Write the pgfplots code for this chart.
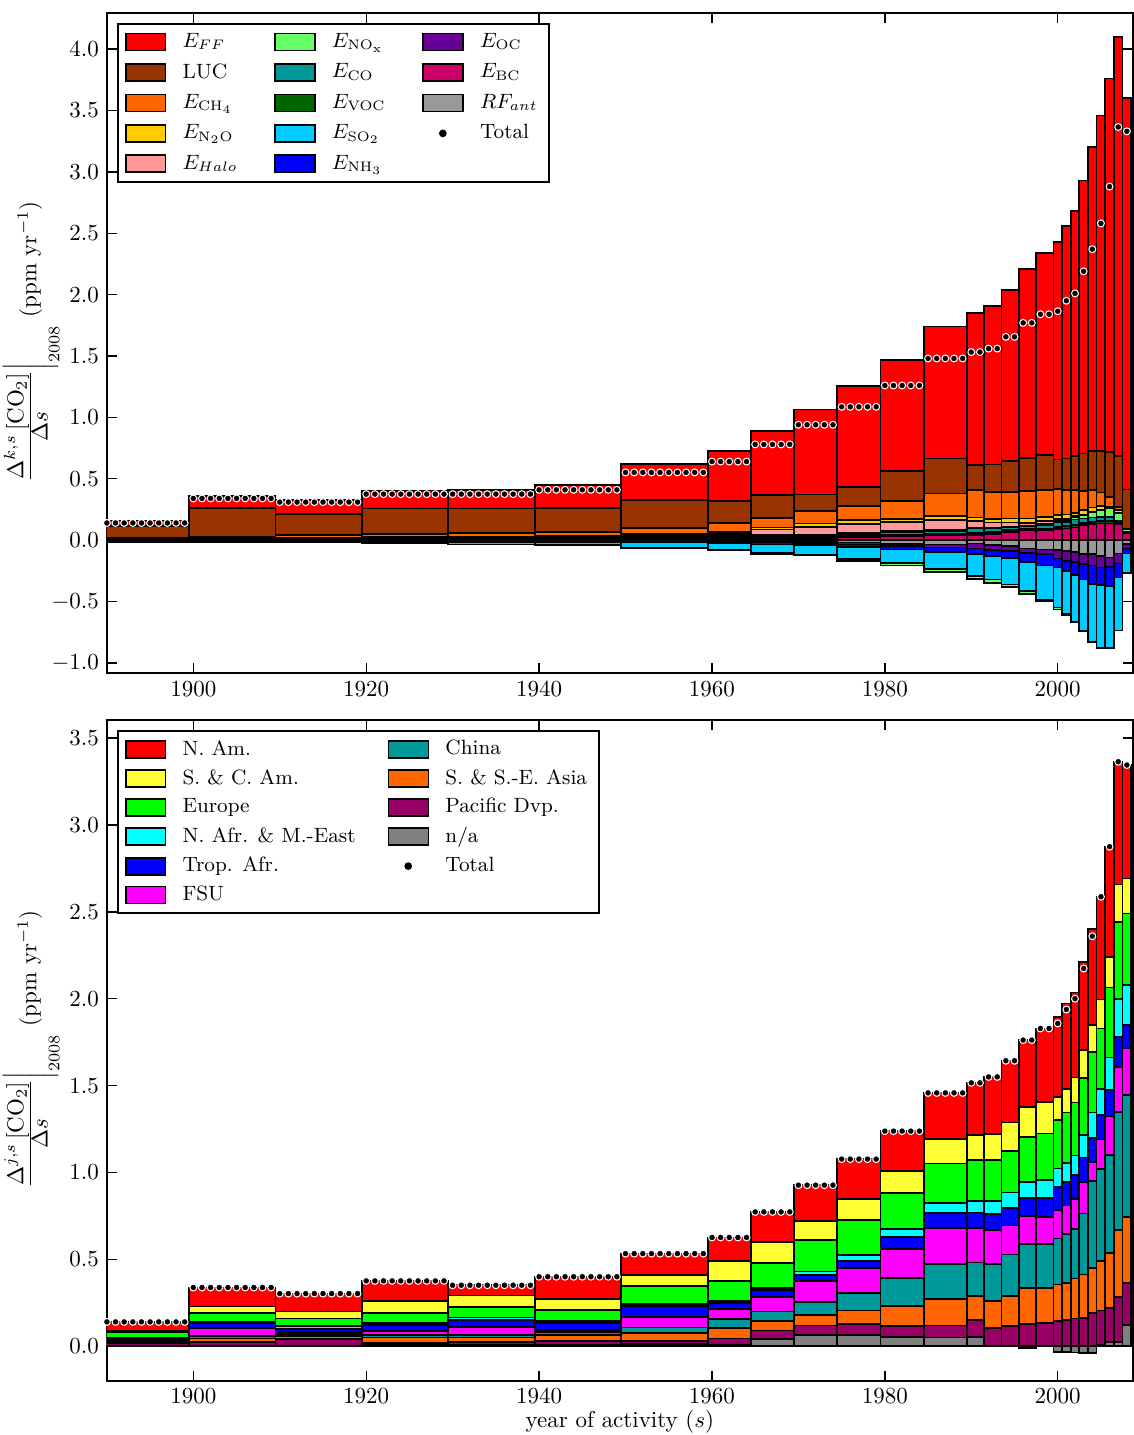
\documentclass[border=0pt]{standalone}
\usepackage{pgfplots}
\usepackage{pgfplotstable}
\pgfplotsset{compat=1.18}

\definecolor{cFF}{RGB}{255,0,0}
\definecolor{cLUC}{RGB}{153,51,0}
\definecolor{cCH4}{RGB}{255,102,0}
\definecolor{cN2O}{RGB}{255,204,0}
\definecolor{cHalo}{RGB}{255,153,153}
\definecolor{cNOx}{RGB}{102,255,102}
\definecolor{cCO}{RGB}{0,153,153}
\definecolor{cVOC}{RGB}{0,102,0}
\definecolor{cSO2}{RGB}{0,204,255}
\definecolor{cNH3}{RGB}{0,0,255}
\definecolor{cOC}{RGB}{102,0,153}
\definecolor{cBC}{RGB}{204,0,102}
\definecolor{cRF}{RGB}{153,153,153}
\definecolor{rNAm}{RGB}{255,0,0}
\definecolor{rSCA}{RGB}{255,255,51}
\definecolor{rEur}{RGB}{0,255,0}
\definecolor{rNAf}{RGB}{0,255,255}
\definecolor{rTrop}{RGB}{0,0,255}
\definecolor{rFSU}{RGB}{255,0,255}
\definecolor{rChina}{RGB}{0,153,153}
\definecolor{rSSE}{RGB}{255,102,0}
\definecolor{rPac}{RGB}{153,0,102}
\definecolor{rNA}{RGB}{128,128,128}

% cumulative boundaries (ppm/yr), bins start at x (ybar interval: last row = right edge)
\pgfplotstableread{
x      bc    voc   co    nox   halo  n2o   ch4   luc   ff    rf     oc     nh3    so2    noxn
1889.5 0.005 0.007 0.010 0.010 0.010 0.013 0.018 0.118 0.160 -0.005 -0.010 -0.015 -0.020 -0.020
1899.5 0.006 0.009 0.014 0.016 0.016 0.021 0.030 0.260 0.360 -0.004 -0.010 -0.015 -0.020 -0.020
1909.5 0.006 0.009 0.014 0.016 0.016 0.022 0.042 0.212 0.330 -0.004 -0.009 -0.013 -0.020 -0.020
1919.5 0.007 0.010 0.016 0.018 0.020 0.027 0.052 0.257 0.400 -0.004 -0.010 -0.015 -0.025 -0.025
1929.5 0.007 0.010 0.016 0.018 0.020 0.028 0.058 0.258 0.410 -0.005 -0.012 -0.018 -0.035 -0.035
1939.5 0.008 0.012 0.019 0.022 0.025 0.033 0.065 0.260 0.450 -0.006 -0.014 -0.020 -0.040 -0.040
1949.5 0.015 0.020 0.030 0.035 0.039 0.049 0.100 0.326 0.620 -0.006 -0.010 -0.014 -0.060 -0.068
1959.5 0.013 0.018 0.027 0.032 0.050 0.068 0.141 0.320 0.725 -0.008 -0.016 -0.028 -0.081 -0.085
1964.5 0.016 0.022 0.034 0.041 0.086 0.103 0.182 0.367 0.890 -0.010 -0.020 -0.035 -0.105 -0.110
1969.5 0.018 0.025 0.039 0.046 0.109 0.136 0.239 0.372 1.065 -0.012 -0.024 -0.042 -0.117 -0.125
1974.5 0.025 0.033 0.050 0.060 0.132 0.163 0.280 0.434 1.255 -0.020 -0.035 -0.055 -0.155 -0.169
1979.5 0.035 0.045 0.065 0.076 0.149 0.171 0.318 0.562 1.466 -0.030 -0.050 -0.075 -0.185 -0.206
1984.5 0.040 0.052 0.072 0.081 0.163 0.196 0.380 0.665 1.740 -0.035 -0.060 -0.095 -0.235 -0.260
1989.5 0.045 0.060 0.100 0.100 0.157 0.185 0.407 0.611 1.852 -0.027 -0.068 -0.110 -0.290 -0.315
1991.5 0.050 0.065 0.100 0.100 0.145 0.171 0.394 0.616 1.910 -0.041 -0.080 -0.130 -0.320 -0.350
1993.5 0.068 0.080 0.109 0.109 0.144 0.177 0.394 0.644 2.040 -0.049 -0.087 -0.145 -0.360 -0.384
1995.5 0.081 0.092 0.114 0.114 0.141 0.177 0.402 0.671 2.210 -0.068 -0.105 -0.180 -0.413 -0.440
1997.5 0.081 0.095 0.125 0.130 0.155 0.190 0.407 0.692 2.340 -0.076 -0.114 -0.206 -0.483 -0.498
1999.5 0.090 0.110 0.150 0.160 0.170 0.204 0.415 0.657 2.430 -0.081 -0.149 -0.223 -0.549 -0.565
2000.5 0.095 0.115 0.150 0.165 0.175 0.209 0.407 0.665 2.560 -0.090 -0.168 -0.250 -0.597 -0.610
2001.5 0.103 0.125 0.168 0.190 0.195 0.223 0.407 0.684 2.680 -0.095 -0.177 -0.285 -0.665 -0.670
2002.5 0.122 0.140 0.177 0.204 0.208 0.244 0.402 0.706 2.930 -0.114 -0.196 -0.320 -0.740 -0.740
2003.5 0.130 0.150 0.185 0.230 0.233 0.266 0.407 0.728 3.200 -0.114 -0.206 -0.358 -0.828 -0.828
2004.5 0.136 0.155 0.190 0.244 0.247 0.280 0.388 0.728 3.460 -0.130 -0.223 -0.367 -0.878 -0.878
2005.5 0.136 0.155 0.190 0.258 0.260 0.272 0.353 0.720 3.760 -0.141 -0.217 -0.375 -0.880 -0.880
2006.5 0.130 0.145 0.157 0.223 0.225 0.244 0.272 0.684 4.100 -0.109 -0.190 -0.304 -0.735 -0.735
2007.5 0.060 0.065 0.070 0.090 0.091 0.095 0.095 0.413 3.600 -0.033 -0.068 -0.109 -0.265 -0.265
2008.5 0.060 0.065 0.070 0.090 0.091 0.095 0.095 0.413 3.600 -0.033 -0.068 -0.109 -0.265 -0.265
}\toptab

\pgfplotstableread{
x      na    pac   sse   china fsu   trop  nafr  eur   sca   nam   nan
1889.5 0.005 0.015 0.020 0.025 0.035 0.045 0.050 0.080 0.090 0.140 0
1899.5 0.005 0.025 0.045 0.060 0.105 0.135 0.140 0.190 0.228 0.338 0
1909.5 0.005 0.040 0.058 0.070 0.080 0.100 0.115 0.160 0.200 0.303 0
1919.5 0.008 0.020 0.050 0.065 0.088 0.123 0.135 0.192 0.262 0.376 0
1929.5 0.006 0.025 0.050 0.065 0.112 0.150 0.165 0.225 0.292 0.351 0
1939.5 0.008 0.030 0.065 0.080 0.092 0.133 0.145 0.210 0.270 0.400 0
1949.5 0.012 0.030 0.075 0.108 0.170 0.232 0.245 0.345 0.410 0.533 0
1959.5 0.010 0.045 0.105 0.155 0.215 0.250 0.262 0.375 0.490 0.626 0
1964.5 0.040 0.090 0.145 0.200 0.285 0.325 0.335 0.480 0.600 0.773 0
1969.5 0.065 0.120 0.180 0.255 0.375 0.410 0.430 0.610 0.720 0.927 0
1974.5 0.065 0.130 0.205 0.305 0.450 0.490 0.525 0.725 0.848 1.077 0
1979.5 0.055 0.115 0.230 0.392 0.560 0.630 0.675 0.882 1.008 1.238 0
1984.5 0.050 0.120 0.270 0.475 0.680 0.768 0.825 1.052 1.193 1.458 0
1989.5 0.055 0.150 0.290 0.482 0.680 0.770 0.835 1.070 1.215 1.516 0
1991.5 0.005 0.105 0.260 0.475 0.668 0.762 0.835 1.070 1.222 1.550 0
1993.5 0.003 0.115 0.290 0.528 0.695 0.797 0.884 1.124 1.287 1.643 0
1995.5 0.000 0.130 0.335 0.590 0.750 0.852 0.945 1.205 1.375 1.762 -0.010
1997.5 0.005 0.135 0.336 0.590 0.745 0.852 0.955 1.225 1.405 1.829 0
1999.5 0.000 0.145 0.355 0.620 0.782 0.918 1.023 1.300 1.435 1.895 -0.035
2000.5 0.000 0.150 0.365 0.644 0.810 0.945 1.056 1.345 1.480 1.973 -0.035
2001.5 0.000 0.160 0.390 0.675 0.848 0.984 1.097 1.402 1.546 2.036 -0.036
2002.5 0.000 0.163 0.413 0.764 0.946 1.086 1.215 1.545 1.704 2.213 -0.040
2003.5 0.000 0.190 0.450 0.950 1.060 1.200 1.345 1.694 1.848 2.400 -0.040
2004.5 0.010 0.205 0.490 1.020 1.190 1.330 1.480 1.829 1.996 2.587 0
2005.5 0.025 0.220 0.537 1.100 1.324 1.474 1.662 2.065 2.241 2.875 0
2006.5 0.025 0.284 0.668 1.349 1.608 1.781 2.000 2.443 2.658 3.364 0
2007.5 0.121 0.365 0.745 1.445 1.714 1.848 2.078 2.491 2.692 3.345 0
2008.5 0.121 0.365 0.745 1.445 1.714 1.848 2.078 2.491 2.692 3.345 0
}\bottab

\pgfplotsset{
  bx/.style={ybar interval, draw=black, line width=0.75pt, forget plot, fill=#1},
  boxleg/.style={legend image code/.code={\draw[##1] (0cm,-0.13cm) rectangle (0.61cm,0.13cm);}},
  lg/.style={boxleg, fill=#1, draw=black, line width=0.75pt},
  dots/.style={only marks, mark=*, mark size=1.5pt, mark options={fill=black, draw=white, line width=0.45pt}, forget plot},
  common/.style={
    scale only axis, width=446.3pt,
    xmin=1890, xmax=2008.7,
    xtick={1900,1920,1940,1960,1980,2000},
    x tick label style={/pgf/number format/1000 sep={}},
    y tick label style={/pgf/number format/.cd, fixed, fixed zerofill, precision=1},
    axis line style={line width=0.9pt},
    tick style={line width=0.6pt, black},
    major tick length=4.5pt,
    legend cell align=left,
    tick label style={font=\normalsize},
    label style={font=\normalsize},
    ylabel style={at={(axis description cs:-0.0437,0.5)}, anchor=south, inner sep=1pt},
  },
}

\begin{document}
\begin{tikzpicture}
\begin{axis}[common, name=top, height=287.1pt,
  ymin=-1.083, ymax=4.293,
  ytick={-1,-0.5,0,0.5,1,1.5,2,2.5,3,3.5,4},
  ylabel={$\left.\frac{\textstyle\Delta^{k,s}\,[\mathrm{CO}_2]}{\textstyle\Delta s}\right|_{2008}$ (ppm yr$^{-1}$)},
  legend columns=3,
  legend style={at={(0,1)}, anchor=north west, xshift=4.35pt, yshift=-4.35pt, font=\small,
    draw=black, line width=0.9pt, inner xsep=3pt, inner ysep=2pt, row sep=1.5pt,
    /tikz/every odd column/.append style={column sep=5pt},
    /tikz/every even column/.append style={column sep=14pt}},
]
\addplot[bx=cFF]   table[x=x,y=ff]   {\toptab};
\addplot[bx=cLUC]  table[x=x,y=luc]  {\toptab};
\addplot[bx=cCH4]  table[x=x,y=ch4]  {\toptab};
\addplot[bx=cN2O]  table[x=x,y=n2o]  {\toptab};
\addplot[bx=cHalo] table[x=x,y=halo] {\toptab};
\addplot[bx=cNOx]  table[x=x,y=nox]  {\toptab};
\addplot[bx=cCO]   table[x=x,y=co]   {\toptab};
\addplot[bx=cVOC]  table[x=x,y=voc]  {\toptab};
\addplot[bx=cBC]   table[x=x,y=bc]   {\toptab};
\addplot[bx=cNOx]  table[x=x,y=noxn] {\toptab};
\addplot[bx=cSO2]  table[x=x,y=so2]  {\toptab};
\addplot[bx=cNH3]  table[x=x,y=nh3]  {\toptab};
\addplot[bx=cOC]   table[x=x,y=oc]   {\toptab};
\addplot[bx=cRF]   table[x=x,y=rf]   {\toptab};
\addplot[dots] coordinates {
(1890,0.14)(1891,0.14)(1892,0.14)(1893,0.14)(1894,0.14)(1895,0.14)(1896,0.14)(1897,0.14)(1898,0.14)(1899,0.14)
(1900,0.34)(1901,0.34)(1902,0.34)(1903,0.34)(1904,0.34)(1905,0.34)(1906,0.34)(1907,0.34)(1908,0.34)(1909,0.34)
(1910,0.31)(1911,0.31)(1912,0.31)(1913,0.31)(1914,0.31)(1915,0.31)(1916,0.31)(1917,0.31)(1918,0.31)(1919,0.31)
(1920,0.375)(1921,0.375)(1922,0.375)(1923,0.375)(1924,0.375)(1925,0.375)(1926,0.375)(1927,0.375)(1928,0.375)(1929,0.375)
(1930,0.375)(1931,0.375)(1932,0.375)(1933,0.375)(1934,0.375)(1935,0.375)(1936,0.375)(1937,0.375)(1938,0.375)(1939,0.375)
(1940,0.41)(1941,0.41)(1942,0.41)(1943,0.41)(1944,0.41)(1945,0.41)(1946,0.41)(1947,0.41)(1948,0.41)(1949,0.41)
(1950,0.552)(1951,0.552)(1952,0.552)(1953,0.552)(1954,0.552)(1955,0.552)(1956,0.552)(1957,0.552)(1958,0.552)(1959,0.552)
(1960,0.64)(1961,0.64)(1962,0.64)(1963,0.64)(1964,0.64)
(1965,0.78)(1966,0.78)(1967,0.78)(1968,0.78)(1969,0.78)
(1970,0.94)(1971,0.94)(1972,0.94)(1973,0.94)(1974,0.94)
(1975,1.086)(1976,1.086)(1977,1.086)(1978,1.086)(1979,1.086)
(1980,1.26)(1981,1.26)(1982,1.26)(1983,1.26)(1984,1.26)
(1985,1.48)(1986,1.48)(1987,1.48)(1988,1.48)(1989,1.48)
(1990,1.532)(1991,1.532)(1992,1.56)(1993,1.56)(1994,1.656)(1995,1.656)
(1996,1.77)(1997,1.77)(1998,1.84)(1999,1.84)
(2000,1.865)(2001,1.95)(2002,2.01)(2003,2.19)(2004,2.37)(2005,2.58)(2006,2.88)(2007,3.365)(2008,3.33)
};
\addlegendimage{lg=cFF}   \addlegendentry{$E_{FF}$}
\addlegendimage{lg=cNOx}  \addlegendentry{$E_{\mathrm{NO_x}}$}
\addlegendimage{lg=cOC}   \addlegendentry{$E_{\mathrm{OC}}$}
\addlegendimage{lg=cLUC}  \addlegendentry{LUC}
\addlegendimage{lg=cCO}   \addlegendentry{$E_{\mathrm{CO}}$}
\addlegendimage{lg=cBC}   \addlegendentry{$E_{\mathrm{BC}}$}
\addlegendimage{lg=cCH4}  \addlegendentry{$E_{\mathrm{CH_4}}$}
\addlegendimage{lg=cVOC}  \addlegendentry{$E_{\mathrm{VOC}}$}
\addlegendimage{lg=cRF}   \addlegendentry{$RF_{ant}$}
\addlegendimage{lg=cN2O}  \addlegendentry{$E_{\mathrm{N_2O}}$}
\addlegendimage{lg=cSO2}  \addlegendentry{$E_{\mathrm{SO_2}}$}
\addlegendimage{only marks, mark=*, mark size=1.2pt, black} \addlegendentry{Total}
\addlegendimage{lg=cHalo} \addlegendentry{$E_{Halo}$}
\addlegendimage{lg=cNH3}  \addlegendentry{$E_{\mathrm{NH_3}}$}
\end{axis}

\begin{axis}[common, name=bot, at={(top.south west)}, anchor=north west, yshift=-20.4pt,
  height=287.5pt,
  ymin=-0.2, ymax=3.604,
  ytick={0,0.5,1,1.5,2,2.5,3,3.5},
  xlabel={year of activity ($s$)},
  xlabel style={at={(axis description cs:0.5,-0.071)}, anchor=base},
  ylabel={$\left.\frac{\textstyle\Delta^{j,s}\,[\mathrm{CO}_2]}{\textstyle\Delta s}\right|_{2008}$ (ppm yr$^{-1}$)},
  legend columns=2,
  legend style={at={(0,1)}, anchor=north west, xshift=4.35pt, yshift=-4.35pt, font=\small,
    draw=black, line width=0.9pt, inner xsep=3pt, inner ysep=2pt, row sep=0.7pt,
    /tikz/every odd column/.append style={column sep=5pt},
    /tikz/every even column/.append style={column sep=12pt}},
]
\addplot[bx=rNAm]   table[x=x,y=nam]   {\bottab};
\addplot[bx=rSCA]   table[x=x,y=sca]   {\bottab};
\addplot[bx=rEur]   table[x=x,y=eur]   {\bottab};
\addplot[bx=rNAf]   table[x=x,y=nafr]  {\bottab};
\addplot[bx=rTrop]  table[x=x,y=trop]  {\bottab};
\addplot[bx=rFSU]   table[x=x,y=fsu]   {\bottab};
\addplot[bx=rChina] table[x=x,y=china] {\bottab};
\addplot[bx=rSSE]   table[x=x,y=sse]   {\bottab};
\addplot[bx=rPac]   table[x=x,y=pac]   {\bottab};
\addplot[bx=rNA]    table[x=x,y=na]    {\bottab};
\addplot[bx=rNA]    table[x=x,y=nan]   {\bottab};
\addplot[dots] coordinates {
(1890,0.14)(1891,0.14)(1892,0.14)(1893,0.14)(1894,0.14)(1895,0.14)(1896,0.14)(1897,0.14)(1898,0.14)(1899,0.14)
(1900,0.338)(1901,0.338)(1902,0.338)(1903,0.338)(1904,0.338)(1905,0.338)(1906,0.338)(1907,0.338)(1908,0.338)(1909,0.338)
(1910,0.303)(1911,0.303)(1912,0.303)(1913,0.303)(1914,0.303)(1915,0.303)(1916,0.303)(1917,0.303)(1918,0.303)(1919,0.303)
(1920,0.376)(1921,0.376)(1922,0.376)(1923,0.376)(1924,0.376)(1925,0.376)(1926,0.376)(1927,0.376)(1928,0.376)(1929,0.376)
(1930,0.351)(1931,0.351)(1932,0.351)(1933,0.351)(1934,0.351)(1935,0.351)(1936,0.351)(1937,0.351)(1938,0.351)(1939,0.351)
(1940,0.40)(1941,0.40)(1942,0.40)(1943,0.40)(1944,0.40)(1945,0.40)(1946,0.40)(1947,0.40)(1948,0.40)(1949,0.40)
(1950,0.533)(1951,0.533)(1952,0.533)(1953,0.533)(1954,0.533)(1955,0.533)(1956,0.533)(1957,0.533)(1958,0.533)(1959,0.533)
(1960,0.626)(1961,0.626)(1962,0.626)(1963,0.626)(1964,0.626)
(1965,0.773)(1966,0.773)(1967,0.773)(1968,0.773)(1969,0.773)
(1970,0.927)(1971,0.927)(1972,0.927)(1973,0.927)(1974,0.927)
(1975,1.077)(1976,1.077)(1977,1.077)(1978,1.077)(1979,1.077)
(1980,1.238)(1981,1.238)(1982,1.238)(1983,1.238)(1984,1.238)
(1985,1.458)(1986,1.458)(1987,1.458)(1988,1.458)(1989,1.458)
(1990,1.516)(1991,1.516)(1992,1.55)(1993,1.55)(1994,1.643)(1995,1.643)
(1996,1.762)(1997,1.762)(1998,1.829)(1999,1.829)
(2000,1.858)(2001,1.938)(2002,2.0)(2003,2.174)(2004,2.36)(2005,2.587)(2006,2.875)(2007,3.364)(2008,3.345)
};
\addlegendimage{lg=rNAm}   \addlegendentry{N. Am.}
\addlegendimage{lg=rChina} \addlegendentry{China}
\addlegendimage{lg=rSCA}   \addlegendentry{S. \& C. Am.}
\addlegendimage{lg=rSSE}   \addlegendentry{S. \& S.-E. Asia}
\addlegendimage{lg=rEur}   \addlegendentry{Europe}
\addlegendimage{lg=rPac}   \addlegendentry{Pacific Dvp.}
\addlegendimage{lg=rNAf}   \addlegendentry{N. Afr. \& M.-East}
\addlegendimage{lg=rNA}    \addlegendentry{n/a}
\addlegendimage{lg=rTrop}  \addlegendentry{Trop. Afr.}
\addlegendimage{only marks, mark=*, mark size=1.2pt, black} \addlegendentry{Total}
\addlegendimage{lg=rFSU}   \addlegendentry{FSU}
\end{axis}
\pgfresetboundingbox
\path[use as bounding box] ([shift={(-46.5pt,5.7pt)}]top.north west) rectangle ([shift={(0.4pt,-23.5pt)}]bot.south east);
\end{tikzpicture}
\end{document}
